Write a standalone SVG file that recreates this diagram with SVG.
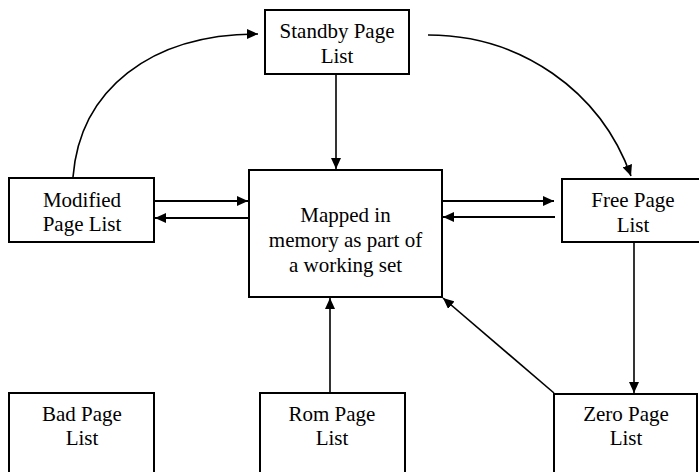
<svg xmlns="http://www.w3.org/2000/svg" width="699" height="472" viewBox="0 0 699 472">
  <style>
    .lbl { font-family: "Liberation Serif", "Times New Roman", serif; font-size: 21px; fill: #000000; text-anchor: middle; }
    .box { fill: #ffffff; stroke: #000000; stroke-width: 2; }
    .edge { fill: none; stroke: #000000; stroke-width: 1.6; marker-end: url(#head); }
    .edge.bold { stroke-width: 2; }
  </style>
  <defs>
    <marker id="head" markerUnits="userSpaceOnUse" markerWidth="12" markerHeight="10" refX="11" refY="5" orient="auto">
      <path d="M0,0 L11,5 L0,10 Z" fill="#000000"/>
    </marker>
  </defs>
  <rect width="699" height="472" fill="#ffffff"/>

  <g id="connectors">
    <!-- modified -> standby -->
    <path class="edge" d="M73,177 C80,90 150,34 258,34"/>
    <!-- standby -> free -->
    <path class="edge" d="M428,35 C520,35 600,90 631,176"/>
    <!-- standby -> mapped -->
    <path class="edge" d="M336,75 L336,169"/>
    <!-- modified <-> mapped -->
    <path class="edge bold" d="M155,201 L248,201"/>
    <path class="edge bold" d="M248,218 L155,218"/>
    <!-- mapped <-> free -->
    <path class="edge bold" d="M443,201 L554,201"/>
    <path class="edge bold" d="M555,217 L443,217"/>
    <!-- free -> zero -->
    <path class="edge" d="M634,243 L634,393"/>
    <!-- rom -> mapped -->
    <path class="edge" d="M330,393 L330,298"/>
    <!-- zero -> mapped -->
    <path class="edge" d="M554,393 L443,298"/>
  </g>

  <g id="standby">
    <rect class="box" x="265" y="10" width="144" height="64"/>
    <text class="lbl" x="337" y="38">Standby Page</text>
    <text class="lbl" x="337" y="63">List</text>
  </g>

  <g id="modified">
    <rect class="box" x="9" y="178" width="145" height="64"/>
    <text class="lbl" x="82" y="207">Modified</text>
    <text class="lbl" x="82" y="231">Page List</text>
  </g>

  <g id="mapped">
    <rect class="box" x="249" y="170" width="193" height="127"/>
    <text class="lbl" x="345.5" y="222">Mapped in</text>
    <text class="lbl" x="345.5" y="247">memory as part of</text>
    <text class="lbl" x="345.5" y="272">a working set</text>
  </g>

  <g id="free">
    <rect class="box" x="562" y="179" width="142" height="63"/>
    <text class="lbl" x="633" y="207">Free Page</text>
    <text class="lbl" x="633" y="232">List</text>
  </g>

  <g id="bad">
    <rect class="box" x="9" y="393" width="145" height="90"/>
    <text class="lbl" x="82" y="421">Bad Page</text>
    <text class="lbl" x="82" y="445">List</text>
  </g>

  <g id="rom">
    <rect class="box" x="260" y="393" width="145" height="90"/>
    <text class="lbl" x="332" y="421">Rom Page</text>
    <text class="lbl" x="332" y="445">List</text>
  </g>

  <g id="zero">
    <rect class="box" x="554" y="394" width="143" height="90"/>
    <text class="lbl" x="626" y="421">Zero Page</text>
    <text class="lbl" x="626" y="445">List</text>
  </g>
</svg>
